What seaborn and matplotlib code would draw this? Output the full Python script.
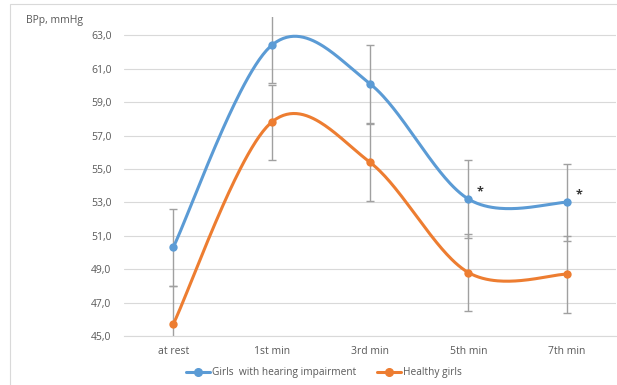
import numpy as np
import pandas as pd
import matplotlib
matplotlib.use("Agg")
import matplotlib.pyplot as plt
import seaborn as sns
from matplotlib.patches import Rectangle
from matplotlib.lines import Line2D

# ---- data ----
categories = ["at rest", "1st min", "3rd min", "5th min", "7th min"]
impaired = [50.3, 62.4, 60.1, 53.2, 53.0]
impaired_err = [2.3, 2.25, 2.35, 2.35, 2.3]
healthy = [45.7, 57.8, 55.4, 48.8, 48.7]
healthy_err = [2.3, 2.25, 2.3, 2.3, 2.3]
series_names = ["Girls  with hearing impairment", "Healthy girls"]
y_ticks = [45, 47, 49, 51, 53, 55, 57, 59, 61, 63]
significant = ["5th min", "7th min"]
y_title = "BPp, mmHg"

BLUE = "#5B9BD5"
ORANGE = "#ED7D31"
GRID = "#D9D9D9"
TEXT = "#595959"
ERR = "#A0A0A0"


def smooth_curve(xs, ys, n=60):
    """Excel-like smoothed line: Catmull-Rom cubic Bezier through the points."""
    pts = np.column_stack([xs, ys]).astype(float)
    out = [pts[0]]
    m = len(pts)
    for i in range(m - 1):
        p0 = pts[i - 1] if i > 0 else pts[i]
        p1 = pts[i]
        p2 = pts[i + 1]
        p3 = pts[i + 2] if i + 2 < m else pts[i + 1]
        c1 = p1 + (p2 - p0) / 6.0
        c2 = p2 - (p3 - p1) / 6.0
        t = np.linspace(0, 1, n)[1:, None]
        seg = ((1 - t) ** 3) * p1 + 3 * ((1 - t) ** 2) * t * c1 + 3 * (1 - t) * t ** 2 * c2 + t ** 3 * p2
        out.extend(seg)
    out = np.array(out)
    return out[:, 0], out[:, 1]


sns.set_theme(style="white")
plt.rcParams["font.family"] = ["Open Sans", "DejaVu Sans"]

fig = plt.figure(figsize=(6.17, 3.85), dpi=100)
ax = fig.add_axes([124 / 617, (385 - 336) / 385, (616 - 124) / 617, (336 - 17) / 385])

# chart-area border
fig.patches.append(Rectangle((10 / 617, -0.1), 1.2, (385 - 4) / 385 + 0.1,
                             transform=fig.transFigure, fill=False,
                             edgecolor=GRID, linewidth=0.8))

xpos = np.arange(len(categories))
series = [(impaired, impaired_err, BLUE), (healthy, healthy_err, ORANGE)]

for vals, errs, col in series:
    ax.errorbar(xpos, vals, yerr=errs, fmt="none", ecolor=ERR, elinewidth=1.0,
                capsize=3.0, capthick=1.0, zorder=2)

handles = []
for (vals, errs, col), name in zip(series, series_names):
    sx, sy = smooth_curve(xpos, vals)
    df = pd.DataFrame({"x": sx, "y": sy})
    sns.lineplot(data=df, x="x", y="y", sort=False, estimator=None, color=col,
                 linewidth=2.2, ax=ax, zorder=3)
    pdf = pd.DataFrame({"x": xpos, "y": vals})
    sns.scatterplot(data=pdf, x="x", y="y", color=col, s=36, edgecolor=col,
                    linewidth=0, ax=ax, zorder=4)
    handles.append(Line2D([0], [0], color=col, lw=2.2, marker="o", markersize=5.5,
                          markeredgecolor=col, label=name))

for cat in significant:
    i = categories.index(cat)
    ax.text(i + 0.12, impaired[i] + 0.45, "*", fontsize=9, color="#333333",
            ha="center", va="center", fontweight="bold")

ax.set_xlim(-0.5, len(categories) - 0.5)
ax.set_ylim(45, 64.1)
ax.set_yticks(y_ticks)
ax.set_yticklabels([f"{v:.1f}".replace(".", ",") for v in y_ticks])
ax.set_xticks(xpos)
ax.set_xticklabels(categories)
ax.tick_params(axis="both", length=0, labelsize=7.5, colors=TEXT)
ax.tick_params(axis="y", pad=9)
ax.tick_params(axis="x", pad=7)
ax.set_xlabel("")
ax.set_ylabel("")
for y in y_ticks:
    ax.axhline(y, color=GRID, lw=0.8, zorder=0)
for s in ["top", "right", "left"]:
    ax.spines[s].set_visible(False)
ax.spines["bottom"].set_color(GRID)
ax.spines["bottom"].set_linewidth(0.8)
ax.grid(False)
ax.set_facecolor("white")

fig.text(26 / 617, 1 - 20 / 385, y_title, fontsize=7.5, color=TEXT, ha="left", va="center")

fig.legend(handles=handles, loc="center", bbox_to_anchor=(324 / 617, 1 - 373 / 385),
           ncol=2, frameon=False, fontsize=7.3, labelcolor=TEXT, handlelength=2.4,
           handletextpad=0.2, columnspacing=2.0)

fig.savefig("out.png", dpi=100, facecolor="white")
